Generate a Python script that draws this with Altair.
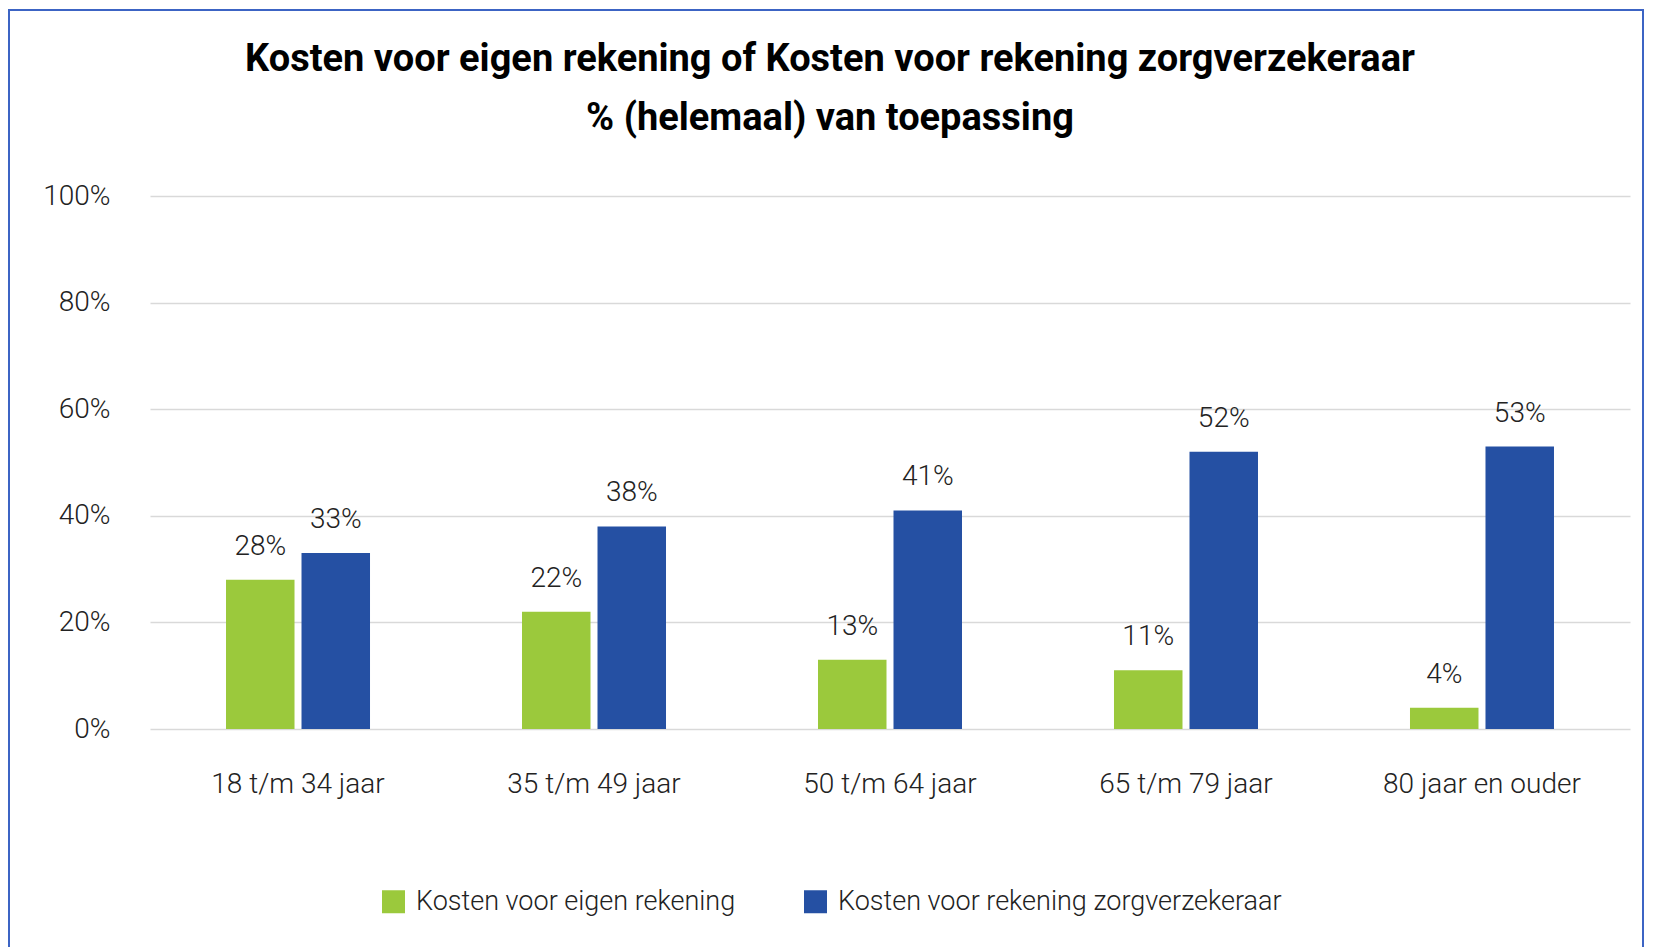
import altair as alt
import pandas as pd

categories = ["18 t/m 34 jaar", "35 t/m 49 jaar", "50 t/m 64 jaar", "65 t/m 79 jaar", "80 jaar en ouder"]
series = ["Kosten voor eigen rekening", "Kosten voor rekening zorgverzekeraar"]
eigen = [28, 22, 13, 11, 4]
zorg = [33, 38, 41, 52, 53]
colors = ["#9BC93C", "#2550A3"]
y_ticks = [0, 20, 40, 60, 80, 100]
title_lines = ["Kosten voor eigen rekening of Kosten voor rekening zorgverzekeraar",
               "% (helemaal) van toepassing"]

rows = []
for i, c in enumerate(categories):
    rows.append({"cat": c, "serie": series[0], "val": eigen[i]})
    rows.append({"cat": c, "serie": series[1], "val": zorg[i]})
df = pd.DataFrame(rows)

FONT = "Roboto"
TXT = "#222222"
FS = 28

x = alt.X("cat:N", sort=categories,
          scale=alt.Scale(paddingInner=0.5135, paddingOuter=0.2568),
          axis=alt.Axis(title=None, labelAngle=0, labelFontSize=FS, labelFont=FONT,
                        labelFontWeight=300, labelLimit=400,
                        labelColor=TXT, labelPadding=41, domain=False, ticks=False))
xo = alt.XOffset("serie:N", sort=series,
                 scale=alt.Scale(paddingInner=0.0927, paddingOuter=0))
y = alt.Y("val:Q", scale=alt.Scale(domain=[0, 100]),
          axis=alt.Axis(values=y_ticks, labelExpr="datum.value + '%'", title=None,
                        domain=False, ticks=False, gridColor="#d9d9d9", gridWidth=1.5,
                        labelPadding=40, labelFontSize=FS, labelFont=FONT,
                        labelFontWeight=300, labelColor=TXT))
color = alt.Color("serie:N", sort=series,
                  scale=alt.Scale(domain=series, range=colors),
                  legend=alt.Legend(title=None, orient="none", legendX=230, legendY=692,
                                    direction="horizontal", symbolType="square",
                                    symbolSize=529, symbolStrokeWidth=0,
                                    labelFontSize=27, labelFont=FONT, labelFontWeight=300,
                                    labelColor=TXT, labelLimit=600,
                                    columnPadding=66, labelOffset=9))

border = alt.Chart(pd.DataFrame({"a": [0]})).mark_rect(
    fill="transparent", stroke="#3c64c4", strokeWidth=2, clip=False
).encode(x=alt.value(-141), x2=alt.value(1493), y=alt.value(-186), y2=alt.value(800))

base = alt.Chart(df)
bars = base.mark_bar().encode(x=x, xOffset=xo, y=y, color=color)
labels = base.transform_calculate(lab="datum.val + '%'").mark_text(
    baseline="alphabetic", dy=-25, fontSize=FS, font=FONT, fontWeight=300, color=TXT
).encode(x=x, xOffset=xo, y=y, text="lab:N")

chart = alt.layer(border, bars, labels).properties(
    width=1480, height=533,
    autosize=alt.AutoSizeParams(type="none"),
    padding={"left": 142, "top": 188, "right": 15, "bottom": 218},
    background="white",
    title=alt.TitleParams(text=title_lines, fontSize=38, font=FONT, fontWeight="bold",
                          color="black", anchor="middle", frame="group", dx=-60,
                          offset=-129, lineHeight=59),
).configure_view(stroke=None)

chart.save("out.html", embed_options={"renderer": "svg", "actions": False})
